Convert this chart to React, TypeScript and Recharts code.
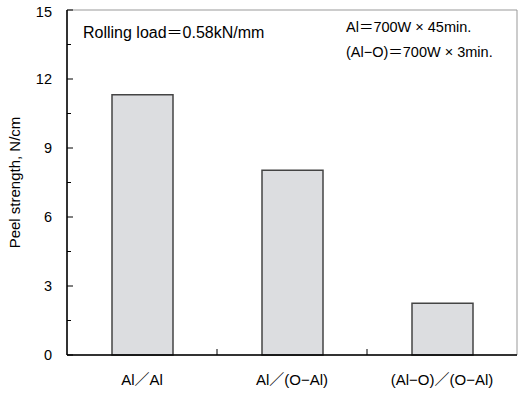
import React from "react";
import { BarChart, Bar, XAxis, YAxis, ReferenceArea, Customized } from "recharts";

const categories = ["Al\uFF0FAl", "Al\uFF0F(O\u2212Al)", "(Al\u2212O)\uFF0F(O\u2212Al)"];
const peelStrength = [11.32, 8.03, 2.25];
const yTicks = [0, 1.5, 3, 4.5, 6, 7.5, 9, 10.5, 12, 13.5, 15];
const majorTicks = [0, 3, 6, 9, 12, 15];
const noteLeft = "Rolling load\uFF1D0.58kN/mm";
const noteRight1 = "Al\uFF1D700W \u00D7 45min.";
const noteRight2 = "(Al\u2212O)\uFF1D700W \u00D7 3min.";

const data = categories.map((c, i) => ({ name: c, value: peelStrength[i] }));

const FONT = "'Liberation Sans', Arial, 'Noto Sans CJK JP', sans-serif";

const YTick = (props: any) => {
  const { x, y, payload } = props;
  const v = payload.value;
  const major = majorTicks.includes(v);
  return (
    <g>
      <line x1={x} x2={x + (major ? 6 : 4)} y1={y} y2={y} stroke="#000" strokeWidth={1} />
      {major && (
        <text x={x - 15} y={y} dy={v === 15 ? 7 : 5} textAnchor="end" fontSize={14.5} fill="#000" fontFamily={FONT}>
          {v}
        </text>
      )}
    </g>
  );
};

const XTick = (props: any) => {
  const { x, y, payload, index, visibleTicksCount, width } = props;
  const band = width / visibleTicksCount;
  return (
    <g>
      {index < visibleTicksCount - 1 && (
        <line x1={x + band / 2} x2={x + band / 2} y1={y} y2={y - 6} stroke="#000" strokeWidth={1} />
      )}
      <text x={x} y={y + 30} textAnchor="middle" fontSize={15} fill="#000" fontFamily={FONT}>
        {payload.value}
      </text>
    </g>
  );
};

const Notes = (props: any) => {
  const off = props.offset || { left: 67, top: 10 };
  const left = off.left;
  const top = off.top;
  return (
    <g fontFamily={FONT} fill="#000">
      <text x={left + 16} y={top + 28} fontSize={16}>{noteLeft}</text>
      <text x={left + 279} y={top + 22} fontSize={14.5}>{noteRight1}</text>
      <text x={left + 279} y={top + 47} fontSize={14.5}>{noteRight2}</text>
    </g>
  );
};

export default function App() {
  return (
    <div style={{ position: "absolute", left: 0, top: 0, background: "#fff" }}>
      <BarChart
        width={520}
        height={396}
        data={data}
        margin={{ top: 10, right: 3, bottom: 0, left: 0 }}
        barSize={61}
      >
        <ReferenceArea y1={0} y2={15} fill="none" stroke="#999" strokeWidth={1} ifOverflow="visible" />
        <XAxis
          dataKey="name"
          height={41}
          tickSize={0}
          tickMargin={0}
          tick={<XTick />}
          axisLine={{ stroke: "#000", strokeWidth: 1.5 }}
          tickLine={false}
          interval={0}
        />
        <YAxis
          width={67}
          domain={[0, 15]}
          ticks={yTicks}
          tickSize={0}
          tickMargin={0}
          tick={<YTick />}
          axisLine={{ stroke: "#000", strokeWidth: 1.5 }}
          tickLine={false}
          interval={0}
          label={{
            value: "Peel strength, N/cm",
            angle: -90,
            position: "insideLeft",
            dx: 10,
            style: { textAnchor: "middle", fontSize: 15, fontFamily: FONT, fill: "#000" },
          }}
        />
        <Bar dataKey="value" fill="#dcdde0" stroke="#444" strokeWidth={1.5} isAnimationActive={false} />
        <Customized component={Notes} />
      </BarChart>
    </div>
  );
}
